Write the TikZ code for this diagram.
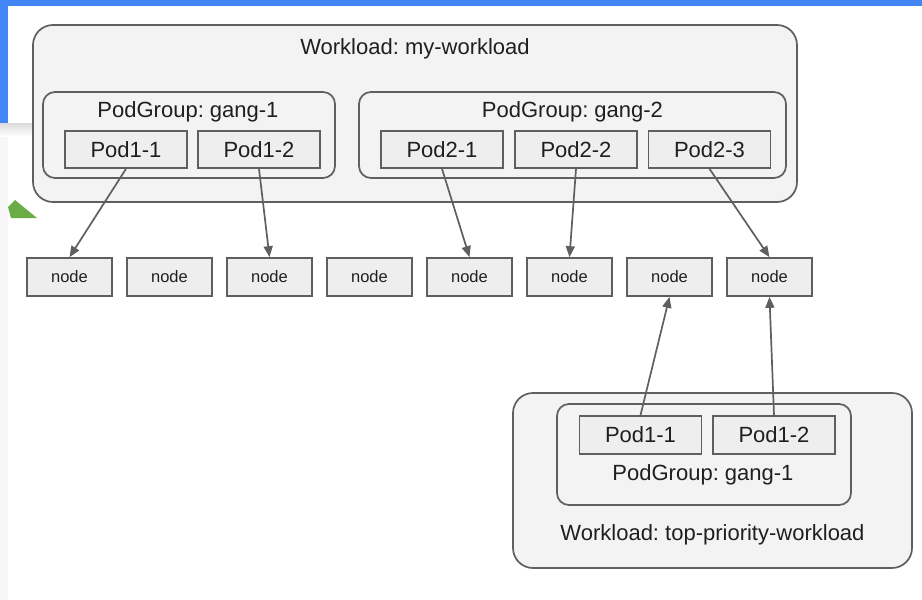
\documentclass[tikz,border=0pt]{standalone}
\usepackage{fontspec}
\setmainfont{Liberation Sans}
\frenchspacing
\usetikzlibrary{arrows.meta}
\definecolor{linegray}{HTML}{5F5F5F}
\definecolor{boxfill}{HTML}{F3F3F3}
\definecolor{podfill}{HTML}{EEEEEE}
\definecolor{textdark}{HTML}{1F1F1F}
\definecolor{barblue}{HTML}{4285F4}
\definecolor{stripgray}{HTML}{F7F7F7}
\definecolor{markgreen}{HTML}{6AAC46}
\tikzset{
  wlbox/.style={draw=linegray, fill=boxfill, line width=1.7pt, rounded corners=20pt},
  grpbox/.style={draw=linegray, fill=boxfill, line width=1.7pt, rounded corners=12pt},
  podbox/.style={draw=linegray, fill=podfill, line width=1.7pt, minimum width=122pt, minimum height=37pt, inner sep=0pt, text=textdark, font=\fontsize{22}{26}\selectfont},
  hostbox/.style={draw=linegray, fill=podfill, line width=1.7pt, minimum width=85pt, minimum height=38pt, inner sep=0pt, text=textdark, font=\fontsize{16.5}{20}\selectfont},
  boxtitle/.style={anchor=base, inner sep=0pt, text=textdark, font=\fontsize{22}{26}\selectfont},
  link/.style={draw=linegray, line width=1.7pt, -{Triangle[length=11pt,width=9pt]}}
}
\begin{document}
\begin{tikzpicture}[x=1pt,y=-1pt]
\useasboundingbox (0,0) rectangle (922,600);
\fill[white] (0,0) rectangle (922,600);
\fill[barblue] (0,0) rectangle (922,6);
\fill[barblue] (0,0) rectangle (8,123);
\fill[stripgray] (0,123) rectangle (8,600);
\shade[top color=black!14, bottom color=white] (0,123) rectangle (33,136);
\fill[markgreen] (8,207) -- (15,200) -- (37,218) -- (11,218) -- cycle;
\node[wlbox, minimum width=764pt, minimum height=177pt] (mywl) at (415,113.5) {};
\node[boxtitle] at (415,54) {Workload: my-workload};
\node[grpbox, minimum width=292pt, minimum height=86pt] (gang1) at (189,135) {};
\node[boxtitle] at (188,117) {PodGroup: gang-1};
\node[grpbox, minimum width=427pt, minimum height=86pt] (gang2) at (572.5,135) {};
\node[boxtitle] at (572.5,117) {PodGroup: gang-2};
\node[podbox] (p11) at (126,149.5) {Pod1-1};
\node[podbox] (p12) at (259,149.5) {Pod1-2};
\node[podbox] (p21) at (442,149.5) {Pod2-1};
\node[podbox] (p22) at (576,149.5) {Pod2-2};
\node[podbox] (p23) at (709.5,149.5) {Pod2-3};
\node[hostbox] (h1) at (69.5,277) {node};
\node[hostbox] (h2) at (169.5,277) {node};
\node[hostbox] (h3) at (269.5,277) {node};
\node[hostbox] (h4) at (369.5,277) {node};
\node[hostbox] (h5) at (469.5,277) {node};
\node[hostbox] (h6) at (569.5,277) {node};
\node[hostbox] (h7) at (669.5,277) {node};
\node[hostbox] (h8) at (769.5,277) {node};
\node[wlbox, minimum width=399pt, minimum height=175pt] (topwl) at (712.5,480.5) {};
\node[boxtitle] at (712.5,540) {Workload: top-priority-workload};
\node[grpbox, minimum width=294pt, minimum height=101pt] (topgang) at (704,454.5) {};
\node[boxtitle] at (703,480) {PodGroup: gang-1};
\node[podbox, minimum height=38pt] (tp11) at (640.5,435) {Pod1-1};
\node[podbox, minimum height=38pt] (tp12) at (774,435) {Pod1-2};
\draw[link] (p11.south) -- (h1.north);
\draw[link] (p12.south) -- (h3.north);
\draw[link] (p21.south) -- (h5.north);
\draw[link] (p22.south) -- (h6.north);
\draw[link] (p23.south) -- (h8.north);
\draw[link] (tp11.north) -- (h7.south);
\draw[link] (tp12.north) -- (h8.south);
\end{tikzpicture}
\end{document}
